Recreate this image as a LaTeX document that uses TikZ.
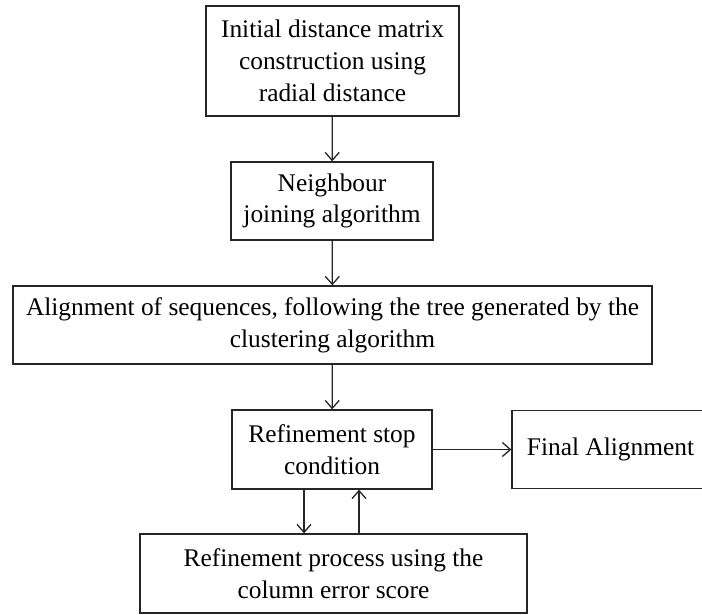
\documentclass[tikz,border=0pt]{standalone}
\usepackage{fontspec}
\setmainfont{Liberation Serif}
\usetikzlibrary{arrows.meta}
\begin{document}
\begin{tikzpicture}[x=1pt,y=-1pt,
  box/.style={draw=black!85, line width=1.3pt, align=center, inner sep=0pt,
    font=\fontsize{25.4}{31.7}\selectfont},
  arr/.style={draw=black!85, line width=1.3pt, -{Straight Barb[length=8pt,width=14pt]}}]
\useasboundingbox (0,0) rectangle (702,614);
\clip (0,0) rectangle (702,614);
\node[box, minimum width=253pt, minimum height=110pt] (b1) at (332.5,61)
  {Initial distance matrix\\construction using\\radial distance};
\node[box, minimum width=202pt, minimum height=78pt] (b2) at (332,201)
  {Neighbour\\joining algorithm};
\node[box, minimum width=639pt, minimum height=78pt] (b3) at (332.5,325)
  {Alignment of sequences, following the tree generated by the\\clustering algorithm};
\node[box, minimum width=200pt, minimum height=79pt] (b4) at (332,449.5)
  {Refinement stop\\condition};
\node[box, minimum width=197pt, minimum height=78pt] (fin) at (610.5,449.5)
  {Final Alignment};
\node[box, minimum width=387pt, minimum height=79pt] (b6) at (333.5,573.5)
  {Refinement process using the\\column error score};
\coordinate (dn) at (304,0);
\coordinate (up) at (359,0);
\draw[arr] (b1) -- (b2);
\draw[arr] (b2) -- (b3);
\draw[arr] (b3) -- (b4);
\draw[arr] (b4) -- (fin);
\draw[arr] (b4.south -| dn) -- (b6.north -| dn);
\draw[arr] (b6.north -| up) -- (b4.south -| up);
\end{tikzpicture}
\end{document}
